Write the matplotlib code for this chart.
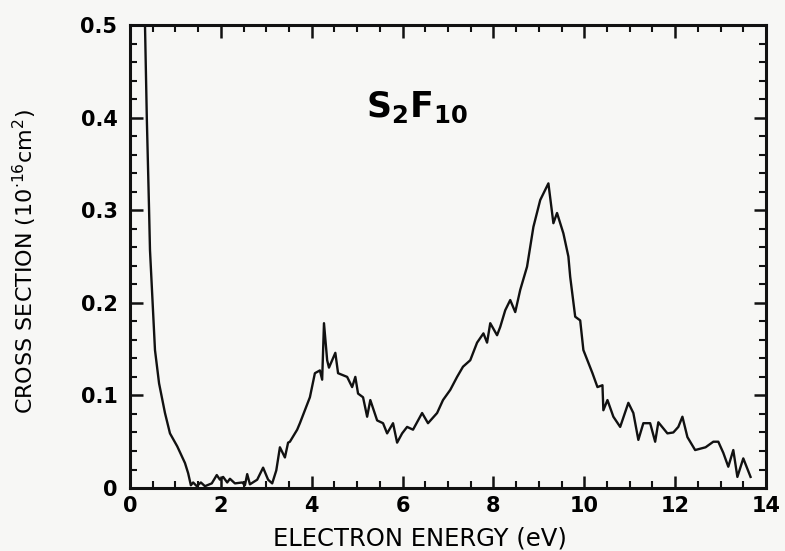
import numpy as np
import matplotlib.pyplot as plt
from matplotlib.ticker import MultipleLocator

# Electron energy (eV) and cross section (1e-16 cm^2)
energy = [0.30, 0.33, 0.37, 0.42, 0.44, 0.55, 0.64, 0.77, 0.88, 1.04, 1.21, 1.28,
          1.34, 1.39, 1.47, 1.56, 1.65, 1.80, 1.91, 1.98, 2.05, 2.14, 2.20, 2.31,
          2.47, 2.53, 2.58, 2.64, 2.80, 2.93, 3.04, 3.13, 3.22, 3.30, 3.41, 3.48,
          3.52, 3.68, 3.74, 3.96, 4.07, 4.18, 4.23, 4.27, 4.34, 4.38, 4.52, 4.58,
          4.78, 4.89, 4.96, 5.02, 5.13, 5.22, 5.29, 5.44, 5.57, 5.66, 5.79, 5.88,
          5.99, 6.10, 6.23, 6.43, 6.56, 6.76, 6.89, 7.05, 7.20, 7.33, 7.49, 7.64,
          7.78, 7.86, 7.93, 8.08, 8.15, 8.26, 8.37, 8.48, 8.59, 8.74, 8.88, 9.03,
          9.21, 9.32, 9.40, 9.54, 9.65, 9.69, 9.80, 9.91, 9.98, 10.18, 10.29, 10.40,
          10.42, 10.51, 10.64, 10.79, 10.97, 11.08, 11.19, 11.30, 11.45, 11.56,
          11.63, 11.83, 11.96, 12.07, 12.16, 12.27, 12.44, 12.67, 12.84, 12.95,
          13.06, 13.17, 13.28, 13.37, 13.50, 13.66]
cross = [0.56, 0.50, 0.40, 0.30, 0.257, 0.149, 0.113, 0.081, 0.059, 0.045, 0.027, 0.016,
         0.003, 0.006, 0.002, 0.006, 0.002, 0.005, 0.014, 0.009, 0.012, 0.006, 0.010, 0.005,
         0.006, 0.003, 0.015, 0.004, 0.009, 0.022, 0.009, 0.005, 0.019, 0.044, 0.033, 0.049,
         0.050, 0.063, 0.070, 0.098, 0.124, 0.127, 0.117, 0.178, 0.138, 0.130, 0.146, 0.124,
         0.120, 0.109, 0.120, 0.102, 0.098, 0.077, 0.095, 0.073, 0.070, 0.059, 0.070, 0.049,
         0.059, 0.066, 0.063, 0.081, 0.070, 0.081, 0.095, 0.106, 0.120, 0.131, 0.138, 0.157,
         0.167, 0.157, 0.178, 0.165, 0.174, 0.192, 0.203, 0.190, 0.214, 0.239, 0.282, 0.311,
         0.329, 0.286, 0.297, 0.275, 0.250, 0.228, 0.185, 0.181, 0.149, 0.124, 0.109, 0.111,
         0.084, 0.095, 0.077, 0.066, 0.092, 0.081, 0.052, 0.070, 0.070, 0.050,
         0.071, 0.059, 0.060, 0.066, 0.077, 0.055, 0.041, 0.044, 0.050, 0.050,
         0.038, 0.023, 0.041, 0.012, 0.032, 0.012]

plt.rcParams['font.family'] = ['DejaVu Sans']
plt.rcParams['mathtext.fontset'] = 'dejavusans'

fig = plt.figure(figsize=(7.85, 5.51), dpi=100, facecolor='#f7f7f5')
ax = fig.add_axes([0.1656, 0.1143, 0.8102, 0.8403])
ax.set_facecolor('#f7f7f5')

ax.plot(energy, cross, color='#111111', lw=1.7)

ax.set_xlim(0, 14)
ax.set_ylim(0, 0.5)
ax.xaxis.set_major_locator(MultipleLocator(2))
ax.xaxis.set_minor_locator(MultipleLocator(0.5))
ax.yaxis.set_minor_locator(MultipleLocator(0.02))
ax.set_yticks([0, 0.1, 0.2, 0.3, 0.4, 0.5])
ax.set_yticklabels(['0', '0.1', '0.2', '0.3', '0.4', '0.5'])

ax.tick_params(which='both', direction='in', top=True, right=True, color='#111111')
ax.tick_params(which='major', length=9, width=1.8, labelsize=15)
ax.tick_params(axis='x', which='major', pad=6)
ax.tick_params(axis='y', which='major', pad=9)
ax.tick_params(which='minor', length=5, width=1.5)
for lab in ax.get_xticklabels() + ax.get_yticklabels():
    lab.set_fontweight('bold')
for s in ax.spines.values():
    s.set_linewidth(2.2)
    s.set_color('#111111')

ax.set_xlabel('ELECTRON ENERGY (eV)', fontsize=17.5)
ax.set_ylabel(r'CROSS SECTION (10$^{\cdot 16}$cm$^{2}$)', fontsize=16)
ax.xaxis.set_label_coords(0.456, -0.083)
ax.yaxis.set_label_coords(-0.143, 0.49)

ax.text(5.2, 0.401, r'$\mathbf{S_2F_{10}}$', fontsize=25, va='baseline', ha='left')

fig.savefig('out.png', dpi=100, facecolor=fig.get_facecolor())
